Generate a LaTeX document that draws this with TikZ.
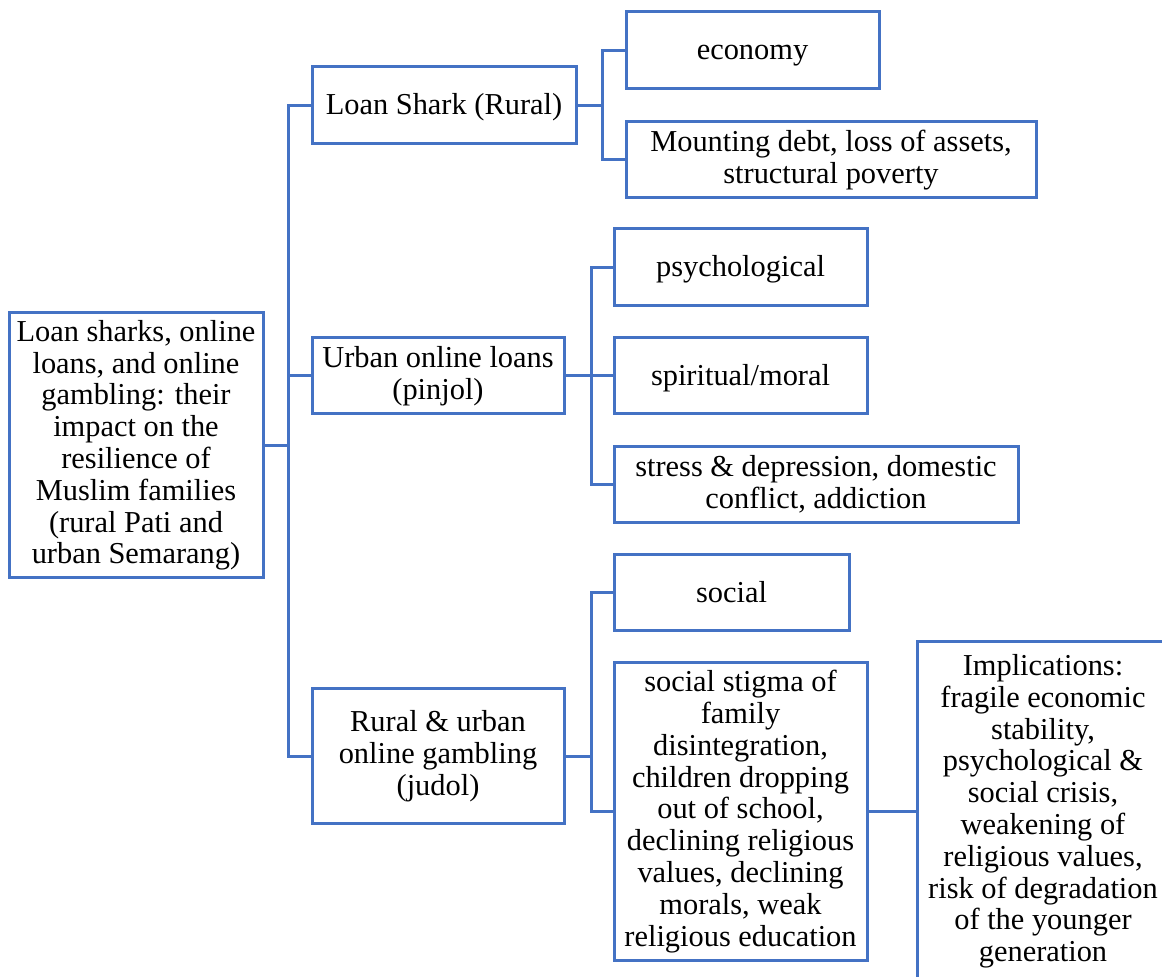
\documentclass[tikz,border=0pt]{standalone}
\usepackage{fontspec}
\setmainfont{Liberation Serif}
\definecolor{wordblue}{RGB}{68,114,196}
\newcommand\boxstrut{\rule[-3.4pt]{0pt}{15.9pt}}

\begin{document}
\begin{tikzpicture}[x=0.5pt, y=-0.5pt,
    box/.style={draw=wordblue, line width=1.5pt, align=center, inner sep=0pt,
        font=\fontsize{15.2}{15.9}\selectfont,
        execute at begin node=\boxstrut, execute at end node=\boxstrut},
    link/.style={draw=wordblue, line width=1.5pt}]
    \useasboundingbox (0,0) rectangle (1162,977);
    \clip (0,0) rectangle (1162,977);

    % Root
    \node[box, minimum width=127pt, minimum height=132.5pt] (root) at (136,445.5)
        {Loan sharks, online\\loans, and online\\gambling: their\\impact on the\\resilience of\\Muslim families\\(rural Pati and\\urban Semarang)};

    % Middle level
    \node[box, minimum width=132pt, minimum height=38.5pt] (shark) at (444,105.5) {Loan Shark (Rural)};
    \node[box, minimum width=126pt, minimum height=38pt] (pinjol) at (438,376) {Urban online loans\\(pinjol)};
    \node[box, minimum width=126pt, minimum height=67.5pt] (judol) at (438,756.5) {Rural \& urban\\online gambling\\(judol)};

    % Loan shark impacts
    \node[box, minimum width=126.5pt, minimum height=38.5pt] (economy) at (752.5,50.5) {economy};
    \node[box, minimum width=205pt, minimum height=38pt] (debt) at (831,160) {Mounting debt, loss of assets,\\structural poverty};

    % Online loan impacts
    \node[box, minimum width=126.5pt, minimum height=38.5pt] (psych) at (740.5,267.5) {psychological};
    \node[box, minimum width=126.5pt, minimum height=38pt] (spirit) at (740.5,376) {spiritual/moral};
    \node[box, minimum width=202pt, minimum height=38pt] (stress) at (816,485) {stress \& depression, domestic\\conflict, addiction};

    % Online gambling impacts
    \node[box, minimum width=117.5pt, minimum height=38pt] (social) at (731.5,593) {social};
    \node[box, minimum width=126.5pt, minimum height=148.5pt] (stigma) at (740.5,811.5)
        {social stigma of\\family\\disintegration,\\children dropping\\out of school,\\declining religious\\values, declining\\morals, weak\\religious education};

    % Implications
    \node[box, minimum width=126pt, minimum height=170pt] (impl) at (1043,811.5)
        {Implications:\\fragile economic\\stability,\\psychological \&\\social crisis,\\weakening of\\religious values,\\risk of degradation\\of the younger\\generation};

    % Connectors
    \draw[link] (root.east) -- ++(24,0) coordinate (trunk);
    \draw[link] (shark.west) -| (trunk);
    \draw[link] (pinjol.west) -| (trunk);
    \draw[link] (judol.west) -| (trunk);

    \draw[link] (shark.east) -- ++(25,0) coordinate (fork1);
    \draw[link] (economy.west) -| (fork1);
    \draw[link] (debt.west) -| (fork1);

    \draw[link] (pinjol.east) -- (spirit.west);
    \coordinate (fork2) at ([xshift=13pt]pinjol.east);
    \draw[link] (psych.west) -| (fork2);
    \draw[link] (stress.west) -| (fork2);

    \draw[link] (judol.east) -- ++(26,0) coordinate (fork3);
    \draw[link] (social.west) -| (fork3);
    \draw[link] (stigma.west) -| (fork3);

    \draw[link] (stigma.east) -- (impl.west);

\end{tikzpicture}
\end{document}
